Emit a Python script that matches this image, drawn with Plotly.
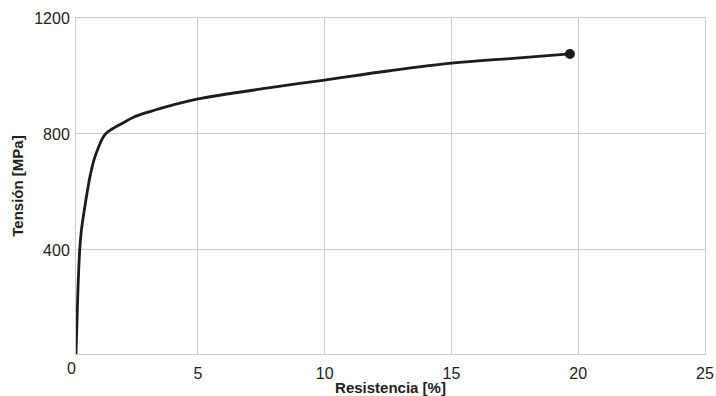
import plotly.graph_objects as go

# Data
strain = [0.19, 0.266, 0.337, 0.404, 0.562, 0.74, 0.897, 1.083, 1.193, 1.331, 1.489, 1.686,
          2.04, 2.44, 3.77, 4.96, 7.71, 10.0, 12.57, 15.0, 17.43, 19.67]
stress = [41, 262, 400, 469, 562, 652, 710, 755, 778, 798, 810, 821,
          838, 857, 894, 920, 958, 986, 1018, 1044, 1061, 1076]
end_x = [19.67]
end_y = [1076]

x_ticks = [5, 10, 15, 20, 25]
y_ticks = [400, 800, 1200]
x_min, x_max = 0.19, 25
y_min, y_max = 41, 1200

FONT = "Liberation Sans, Arial, Helvetica, sans-serif"
INK = "#1c1c1c"
GRID = "#cccccc"

fig = go.Figure()
fig.add_trace(go.Scatter(x=strain, y=stress, mode="lines",
                         line=dict(color=INK, width=2.8, shape="spline", smoothing=1.0),
                         hoverinfo="skip", showlegend=False))
fig.add_trace(go.Scatter(x=end_x, y=end_y, mode="markers",
                         marker=dict(color=INK, size=10),
                         showlegend=False))

fig.update_layout(
    width=716, height=396,
    margin=dict(l=76, r=11, t=18, b=42),
    plot_bgcolor="white", paper_bgcolor="white",
    font=dict(family=FONT, color="#222222", size=16),
    xaxis=dict(range=[x_min, x_max], tickvals=x_ticks, showgrid=True, gridcolor=GRID,
               gridwidth=1, showline=True, linecolor=GRID, linewidth=1, mirror=True,
               zeroline=False, ticks="", ticklabelstandoff=5, automargin=False,
               title=dict(text="<b>Resistencia [%]</b>", font=dict(size=15), standoff=4)),
    yaxis=dict(range=[y_min, y_max], tickvals=y_ticks, showgrid=True, gridcolor=GRID,
               gridwidth=1, showline=True, linecolor=GRID, linewidth=1, mirror=True,
               zeroline=False, ticks="", ticklabelstandoff=2, automargin=False,
               title=dict(text="<b>Tensión [MPa]</b>", font=dict(size=15), standoff=6)),
)

# label for x = 0 (the axis begins just after zero)
fig.add_annotation(x=(0 - x_min) / (x_max - x_min), xref="paper", y=0, yref="paper",
                   text="0", showarrow=False, xanchor="center", yanchor="top",
                   yshift=-4, font=dict(size=16, family=FONT, color="#222222"))

fig.write_html("out.html", config={"displayModeBar": False},
               post_script="document.body.style.margin='0';document.body.style.overflow='hidden';")
